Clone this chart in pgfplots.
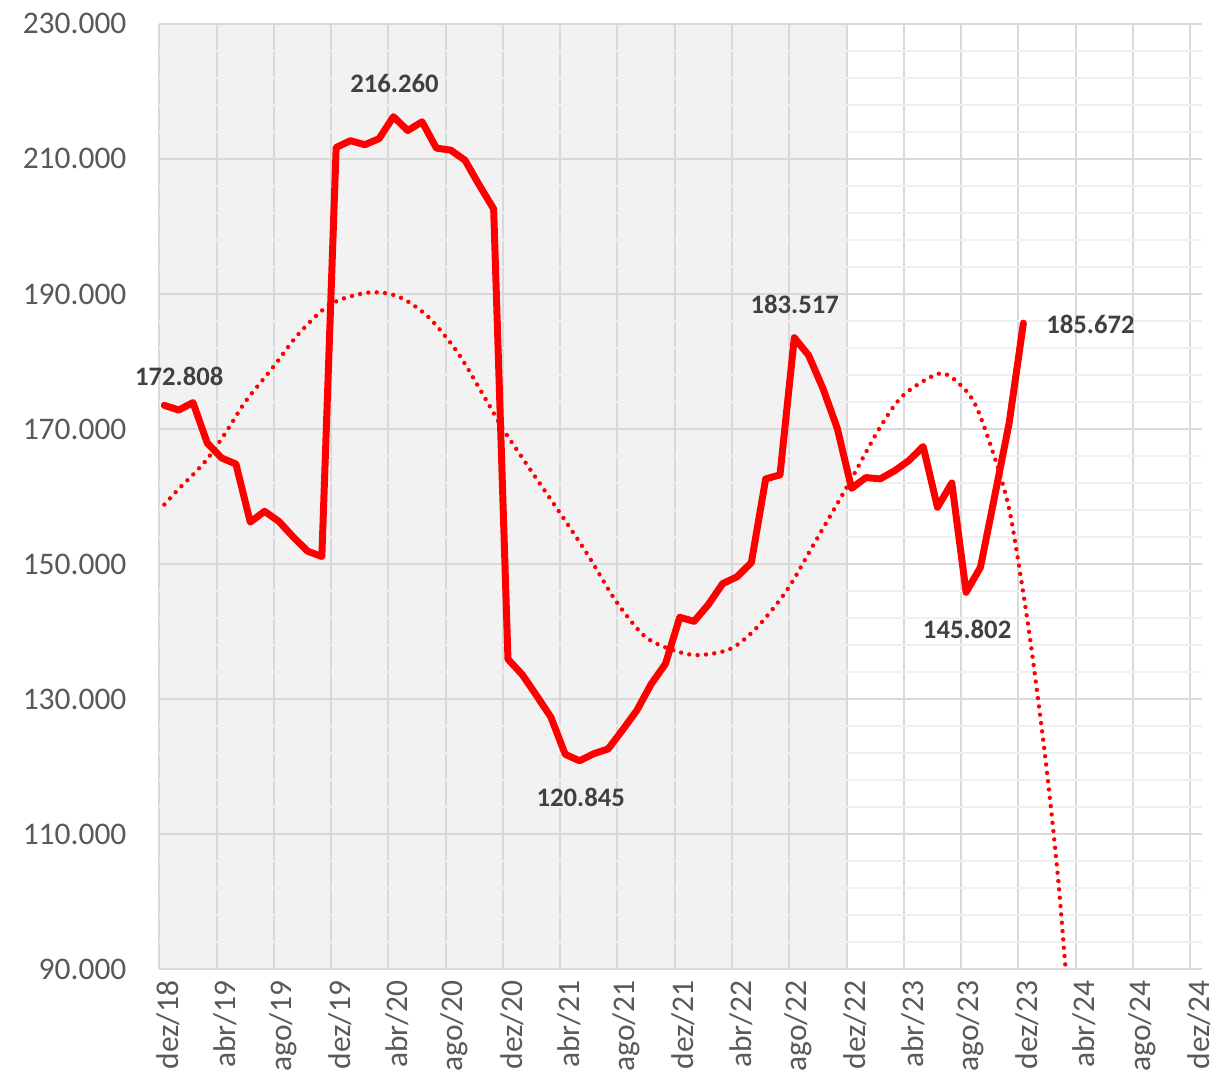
\documentclass[border=0pt]{standalone}
\usepackage{pgfplots}
\pgfplotsset{compat=1.18}
\usepackage{fontspec}
\setmainfont{Carlito}
\definecolor{gridc}{HTML}{D9D9D9}
\definecolor{shade}{HTML}{F2F2F2}
\definecolor{minorc}{HTML}{F0F0F0}
\definecolor{tickc}{HTML}{595959}
\definecolor{labc}{HTML}{404040}
\definecolor{redl}{HTML}{FF0000}
\begin{document}
\begin{tikzpicture}
\begin{axis}[
  at={(0,0)}, anchor=south west,
  scale only axis, width=523.5pt, height=474.5pt,
  xmin=0, xmax=72.83, ymin=90, ymax=230,
  set layers, clip mode=individual,
  axis line style={draw=none},
  major tick length=0pt, minor tick length=0pt,
  xtick={0,4,...,72},
  xticklabels={dez/18,abr/19,ago/19,dez/19,abr/20,ago/20,dez/20,abr/21,ago/21,dez/21,abr/22,ago/22,dez/22,abr/23,ago/23,dez/23,abr/24,ago/24,dez/24},
  ytick={90,110,...,230},
  yticklabels={90.000,110.000,130.000,150.000,170.000,190.000,210.000,230.000},
  minor y tick num=4,
  xmajorgrids, ymajorgrids, yminorgrids,
  major grid style={draw=gridc, line width=1pt},
  minor grid style={draw=minorc, line width=1pt},
  ticklabel style={font=\fontsize{15.8}{18}\selectfont, text=tickc},
  xticklabel style={xshift=4.5pt, yshift=-2.5pt, rotate=90, anchor=east},
  yticklabel style={xshift=-13pt},
]
\addplot[draw=none, fill=shade, on layer=axis background] coordinates {(0,90) (48,90) (48,230) (0,230)} -- cycle;

\addplot[redl, line width=2.2pt, line cap=round, dash pattern=on 0pt off 4.2pt, smooth, tension=0.5] coordinates {
(0.35,158.8) (1.39,161.2) (2.43,163.4) (3.48,165.9) (4.80,170.0) (6.03,174.1) (8.0,179.3) (9.74,184.1) (11.97,188.5) (14.61,190.2) (16.70,189.6) (18.78,186.6) (20.87,181.2) (22.96,173.8) (24.0,170.0) (25.74,164.5) (27.97,157.6) (29.91,151.4) (31.86,144.6) (33.74,139.6) (35.27,137.7) (37.43,136.5) (39.86,137.4) (41.74,140.6) (43.83,146.1) (45.57,152.4) (48.21,162.1) (50.30,170.1) (51.97,175.0) (54.47,178.2) (55.86,176.7) (57.04,173.4) (58.43,165.2) (59.34,158.3) (60.03,149.9) (60.87,138.1) (61.91,120.8) (62.75,104.0) (63.30,90.0) (63.5,86.5)
};

\addplot[redl, line width=3.5pt, line join=round, line cap=round] coordinates {
(0.35,173.5) (1.35,172.8) (2.35,173.9) (3.35,167.9) (4.35,165.7) (5.35,164.8) (6.35,156.2) (7.35,157.8) (8.35,156.3) (9.35,154.0) (10.35,151.9) (11.35,151.1)
(12.35,211.7) (13.35,212.7) (14.35,212.1) (15.35,213.0) (16.35,216.26) (17.35,214.2) (18.35,215.5) (19.35,211.6) (20.35,211.3) (21.35,209.8) (22.35,206.1) (23.35,202.6)
(24.35,135.9) (25.35,133.6) (26.35,130.5) (27.35,127.3) (28.35,121.8) (29.35,120.845) (30.35,121.9) (31.35,122.6) (32.35,125.4) (33.35,128.3) (34.35,132.2) (35.35,135.2)
(36.35,142.1) (37.35,141.5) (38.35,144.0) (39.35,147.1) (40.35,148.1) (41.35,150.2) (42.35,162.6) (43.35,163.2) (44.35,183.517) (45.35,180.9) (46.35,176.0) (47.35,170.1)
(48.35,161.2) (49.35,162.8) (50.35,162.6) (51.35,163.8) (52.35,165.3) (53.35,167.4) (54.35,158.4) (55.35,162.0) (56.35,145.802) (57.35,149.5) (58.35,160.1) (59.35,170.8)
(60.35,185.672)
};

\begin{scope}[every node/.style={font=\fontsize{13.4}{16}\bfseries\selectfont, text=labc}]
\node at (axis cs:1.39,177.8) {172.808};
\node at (axis cs:16.42,221.15) {216.260};
\node at (axis cs:44.38,188.4) {183.517};
\node at (axis cs:65.04,185.45) {185.672};
\node at (axis cs:29.43,115.4) {120.845};
\node at (axis cs:56.42,140.3) {145.802};
\end{scope}
\end{axis}
\pgfresetboundingbox
\path[use as bounding box] (-80pt,-57pt) rectangle (531pt,486.5pt);
\end{tikzpicture}
\end{document}
